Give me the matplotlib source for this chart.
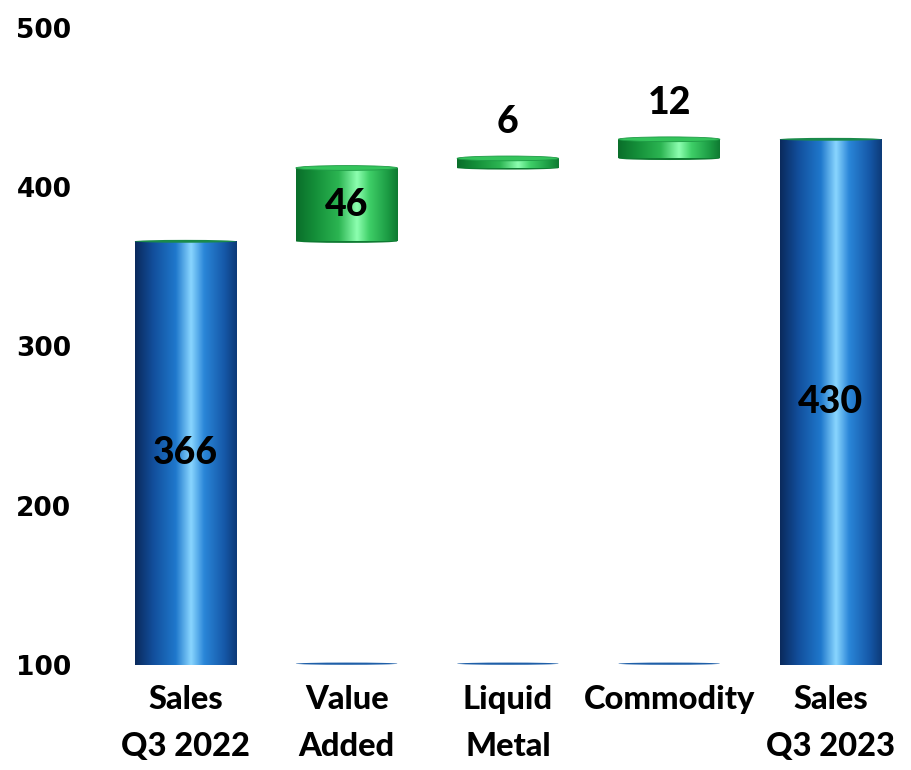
import numpy as np
import matplotlib
matplotlib.use("Agg")
import matplotlib.pyplot as plt
from matplotlib.colors import LinearSegmentedColormap
from matplotlib.patches import Ellipse

# Data
categories = ["Sales\nQ3 2022", "Value\nAdded", "Liquid\nMetal", "Commodity", "Sales\nQ3 2023"]
values = [366, 46, 6, 12, 430]
is_total = [True, False, False, False, True]
y_ticks = [100, 200, 300, 400, 500]

YMIN, YMAX = 100, 500
BAR_W = 0.63
LABEL_FONT = "Lato"

blue_cmap = LinearSegmentedColormap.from_list(
    "blue_cyl",
    [(0.0, "#0a2a5c"), (0.18, "#124f9c"), (0.40, "#1f78cc"),
     (0.55, "#8ad6ff"), (0.68, "#2a86d8"), (0.88, "#1558a8"), (1.0, "#0d3a78")])
green_cmap = LinearSegmentedColormap.from_list(
    "green_cyl",
    [(0.0, "#0a6e2a"), (0.20, "#15913a"), (0.42, "#2cb552"),
     (0.60, "#8dffb0"), (0.72, "#3fcf68"), (0.90, "#1c9c44"), (1.0, "#0f7a32")])

grad = np.linspace(0, 1, 256).reshape(1, -1)

fig = plt.figure(figsize=(9.11, 7.70), dpi=100)
ax = fig.add_axes([0.115, 0.136, 0.885, 0.828])

# waterfall bottoms
bottoms = []
running = 0
for v, tot in zip(values, is_total):
    if tot:
        bottoms.append(0)
        running = v
    else:
        bottoms.append(running)
        running += v

for i, (v, b, tot) in enumerate(zip(values, bottoms, is_total)):
    cmap = blue_cmap if tot else green_cmap
    bar = ax.bar(i, v, bottom=b, width=BAR_W, facecolor="none", edgecolor="none")[0]
    lo = max(b, YMIN)
    im = ax.imshow(grad, cmap=cmap, aspect="auto", interpolation="bicubic",
                   extent=[i - BAR_W / 2, i + BAR_W / 2, lo, b + v], zorder=2)
    im.set_clip_path(bar)
    # top cap
    if tot:
        ax.add_patch(Ellipse((i, b + v), BAR_W, 1.8, facecolor="#1a8a4a",
                             edgecolor="none", zorder=3))
    else:
        ax.add_patch(Ellipse((i, b + v), BAR_W, 3.0, facecolor="#34c45c",
                             edgecolor="#1f9a46", linewidth=0.6, zorder=3))
        # base of the hidden series at the axis floor
        ax.add_patch(Ellipse((i, YMIN + 1.0), BAR_W, 1.4, facecolor="#1f5fa8",
                             edgecolor="none", zorder=3))
        ax.add_patch(Ellipse((i, b), BAR_W, 2.0, facecolor="#0f7a32",
                             edgecolor="none", zorder=1.9))

# value labels
for i, (v, b, tot) in enumerate(zip(values, bottoms, is_total)):
    lo = max(b, YMIN)
    if v >= 20:
        ypos = (lo + b + v) / 2
        va = "center"
    else:
        ypos = b + v + 12
        va = "bottom"
    ax.text(i, ypos, str(v), ha="center", va=va, fontsize=27,
            fontweight="black", family=LABEL_FONT, color="black", zorder=5)

ax.set_xlim(-0.5, len(values) - 0.5)
ax.set_ylim(YMIN, YMAX)
ax.set_yticks(y_ticks)
ax.set_yticklabels([str(t) for t in y_ticks], fontsize=19, fontweight="bold",
                   family="DejaVu Sans")
ax.set_xticks(range(len(categories)))
ax.set_xticklabels(categories, fontsize=23.5, fontweight="black", family=LABEL_FONT,
                   linespacing=1.75)
ax.tick_params(axis="y", length=0, pad=24)
ax.tick_params(axis="x", length=0, pad=14)
for s in ax.spines.values():
    s.set_visible(False)

fig.savefig("out.png", dpi=100)
